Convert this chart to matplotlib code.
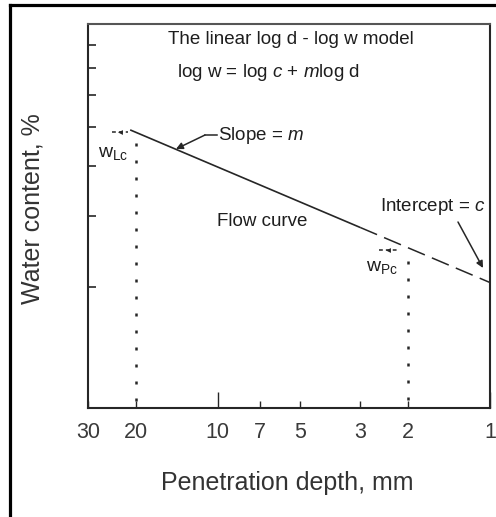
import matplotlib
matplotlib.use("Agg")
import matplotlib.pyplot as plt
from matplotlib.lines import Line2D
import numpy as np

plt.rcParams['font.family'] = ['Liberation Sans', 'DejaVu Sans']
plt.rcParams['mathtext.fontset'] = 'custom'
plt.rcParams['mathtext.rm'] = 'Liberation Sans'
plt.rcParams['mathtext.it'] = 'Liberation Sans:italic'

# ---- data ----
depth_solid = [21.0, 3.0]          # mm
water_solid = [49.1, 28.1]         # %
depth_dashed = [3.0, 1.0]
water_dashed = [28.1, 20.5]
d_Lc, w_Lc = 20, 48.4              # liquid limit point
d_Pc, w_Pc = 2, 25.0               # plastic limit point
x_ticks_major = [10, 1]
x_ticks_minor = [30, 20, 7, 5, 3, 2]
y_ticks = [20, 30, 40, 50, 60, 70, 80]
x_limits = (30, 1)
y_limits = (10, 90)

W, H = 496, 517
fig = plt.figure(figsize=(W / 100, H / 100), dpi=100)
ax = fig.add_axes([88 / W, 1 - 408 / H, (490 - 88) / W, (408 - 24) / H])

dark = '#262626'
txt = '#1e1e1e'

ax.set_xscale('log')
ax.set_yscale('log')
ax.set_xlim(*x_limits)
ax.set_ylim(*y_limits)

# main flow curve
ax.plot(depth_solid, water_solid, color=dark, lw=1.2, solid_capstyle='butt')
ax.plot(depth_dashed, water_dashed, color=dark, lw=1.1, ls=(0, (12, 5)))

# dotted verticals
ax.plot([d_Lc, d_Lc], [45.6, y_limits[0]], color=dark, lw=1.8, ls=(0, (1.2, 5.6)))
ax.plot([d_Pc, d_Pc], [23.2, y_limits[0]], color=dark, lw=1.8, ls=(0, (1.2, 5.6)))

# small read-off markers
for (d0, d1, w) in [(24.5, 21.4, w_Lc), (2.56, 2.2, 24.7)]:
    ax.plot([d0, d1], [w, w], color=dark, lw=1.1, ls=(0, (2.5, 2)))
    ax.plot([np.sqrt(d0 * d1)], [w], marker='<', ms=3.5, color=dark, mew=0)

# ticks
ax.xaxis.set_major_locator(matplotlib.ticker.FixedLocator(x_ticks_major))
ax.xaxis.set_minor_locator(matplotlib.ticker.FixedLocator(x_ticks_minor))
ax.xaxis.set_major_formatter(matplotlib.ticker.FixedFormatter([str(v) for v in x_ticks_major]))
ax.xaxis.set_minor_formatter(matplotlib.ticker.FixedFormatter([str(v) for v in x_ticks_minor]))
ax.yaxis.set_major_locator(matplotlib.ticker.FixedLocator(y_ticks))
ax.yaxis.set_minor_locator(matplotlib.ticker.NullLocator())
ax.yaxis.set_major_formatter(matplotlib.ticker.NullFormatter())
ax.tick_params(axis='x', which='major', direction='in', length=11.5, width=1.0,
               color=dark, labelsize=15.5, labelcolor='#3a3a3a', pad=10)
ax.tick_params(axis='x', which='minor', direction='in', length=5, width=1.0,
               color=dark, labelsize=15.5, labelcolor='#3a3a3a', pad=10)
ax.tick_params(axis='y', which='major', direction='in', length=6, width=1.2, color=dark)

for s in ax.spines.values():
    s.set_color(dark)
    s.set_linewidth(1.5)
ax.spines['top'].set_color('#555555')

def P(x, y):
    return (x, H - y)

# texts
fig.text(168 / W, 1 - 40 / H, 'The linear log d - log w model', fontsize=13.5,
         color=txt, va='center', ha='left')
fig.text(177 / W, 1 - 73 / H, r'log w = log $c$ + $m$log d', fontsize=13.5,
         color=txt, va='center', ha='left')
fig.text(218 / W, 1 - 136 / H, r'Slope = $m$', fontsize=13.5,
         color=txt, va='center', ha='left')
fig.text(217 / W, 1 - 222 / H, 'Flow curve', fontsize=13.5,
         color=txt, va='center', ha='left')
fig.text(380 / W, 1 - 207 / H, r'Intercept = $c$', fontsize=13.5,
         color=txt, va='center', ha='left')
fig.text(128 / W, 1 - 154 / H, r'$\mathregular{w_{Lc}}$', fontsize=14,
         color=txt, va='center', ha='right')
fig.text(398 / W, 1 - 268 / H, r'$\mathregular{w_{Pc}}$', fontsize=14,
         color=txt, va='center', ha='right')

fig.text(287 / W, 1 - 483 / H, 'Penetration depth, mm', fontsize=18,
         color='#333333', va='center', ha='center')
fig.text(33 / W, 1 - 209 / H, 'Water content, %', fontsize=18, rotation=90,
         color='#333333', va='center', ha='center')

# arrows
fig.add_artist(Line2D([217 / W, 205 / W], [1 - 135 / H, 1 - 135 / H],
                      color=dark, lw=1.1, transform=fig.transFigure))
ax.annotate('', xy=P(176, 149), xytext=P(205, 135), xycoords='figure pixels',
            textcoords='figure pixels',
            arrowprops=dict(arrowstyle='-|>', color=dark, lw=1.1,
                            mutation_scale=10, shrinkA=0, shrinkB=0))
ax.annotate('', xy=P(483, 268), xytext=P(458, 222), xycoords='figure pixels',
            textcoords='figure pixels',
            arrowprops=dict(arrowstyle='-|>', color=dark, lw=1.1,
                            mutation_scale=10, shrinkA=0, shrinkB=0))

# outer frame (left and top only)
fig.add_artist(Line2D([10 / W, 10 / W], [0, 1 - 5 / H], color='black', lw=2.3,
                      transform=fig.transFigure))
fig.add_artist(Line2D([10 / W, 1.0], [1 - 5 / H, 1 - 5 / H], color='black', lw=2.3,
                      transform=fig.transFigure))

fig.savefig('out.png', dpi=100)
